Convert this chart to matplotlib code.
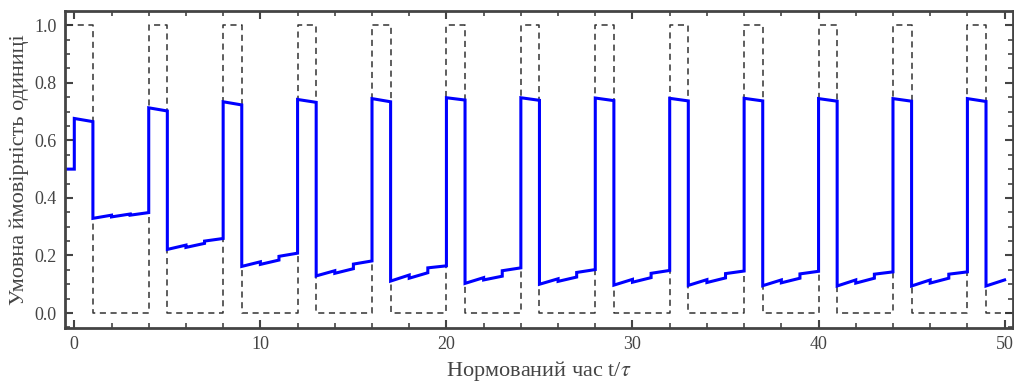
import matplotlib
matplotlib.use('Agg')
import matplotlib.pyplot as plt
from matplotlib.ticker import MultipleLocator

plt.rcParams['font.family'] = ['Liberation Serif', 'DejaVu Serif']
plt.rcParams['mathtext.fontset'] = 'stix'

# value before the first pulse (t < 0)
p_initial = 0.5
t_first = -0.4
t_last = 50.45

# conditional probability on each unit interval [k, k+1], k = 0..49:
# value at the start and at the end of the interval
p_start = [
    0.676, 0.329, 0.334, 0.340,
    0.713, 0.221, 0.228, 0.250,
    0.734, 0.162, 0.169, 0.197,
    0.742, 0.129, 0.138, 0.170,
    0.745, 0.111, 0.121, 0.157,
    0.748, 0.103, 0.115, 0.147,
    0.748, 0.100, 0.110, 0.141,
    0.747, 0.097, 0.107, 0.138,
    0.746, 0.096, 0.106, 0.137,
    0.746, 0.095, 0.105, 0.136,
    0.745, 0.094, 0.104, 0.135,
    0.745, 0.094, 0.104, 0.135,
    0.745, 0.094,
]
p_end = [
    0.665, 0.340, 0.344, 0.349,
    0.702, 0.236, 0.242, 0.259,
    0.723, 0.178, 0.184, 0.208,
    0.732, 0.147, 0.154, 0.181,
    0.734, 0.132, 0.140, 0.164,
    0.740, 0.123, 0.128, 0.157,
    0.739, 0.119, 0.125, 0.151,
    0.738, 0.117, 0.123, 0.148,
    0.737, 0.116, 0.122, 0.146,
    0.737, 0.115, 0.121, 0.145,
    0.736, 0.115, 0.121, 0.143,
    0.736, 0.115, 0.121, 0.143,
    0.735, 0.115,
]
# input signal: 1 on [4n, 4n+1], 0 otherwise
period = 4
pulse_width = 1

# build blue polyline
xs = [t_first, 0]
ys = [p_initial, p_initial]
for k in range(len(p_start)):
    xs += [k, k + 1]
    ys += [p_start[k], p_end[k]]

# build dashed signal
sx = [t_first]
sy = [1]
t = 0
while t < t_last:
    sx += [t, t + pulse_width, t + pulse_width, t + period, t + period]
    sy += [1, 1, 0, 0, 1]
    t += period

fig = plt.figure(figsize=(10.14, 3.83), dpi=100)
ax = fig.add_axes([0.0641, 0.1436, 0.9349, 0.8274])

ax.plot(sx, sy, color='#333333', lw=1.1, ls=(0, (4, 3)))
ax.plot(xs, ys, color='#0000ff', lw=2.2, solid_joinstyle='miter')

ax.set_xlim(-0.5, 50.45)
ax.set_ylim(-0.052, 1.049)
ax.xaxis.set_major_locator(MultipleLocator(10))
ax.xaxis.set_minor_locator(MultipleLocator(2))
ax.yaxis.set_major_locator(MultipleLocator(0.2))
ax.yaxis.set_minor_locator(MultipleLocator(0.05))
ax.yaxis.set_major_formatter(plt.FuncFormatter(lambda v, p: f'{v:.1f}'))

for s in ax.spines.values():
    s.set_color('#444444')
    s.set_linewidth(2.0)
ax.tick_params(which='both', direction='in', top=True, right=True,
               color='#444444', labelcolor='#444444', labelsize=13)
ax.tick_params(which='major', length=6, width=1.5, pad=6)
ax.tick_params(which='minor', length=3.5, width=1.2)

ax.set_xlabel('Нормований час t/$\\tau$', fontsize=16, color='#444444', labelpad=4)
ax.set_ylabel('Умовна ймовірність одиниці', fontsize=16, color='#444444', labelpad=4)

fig.savefig('out.png', dpi=100)
